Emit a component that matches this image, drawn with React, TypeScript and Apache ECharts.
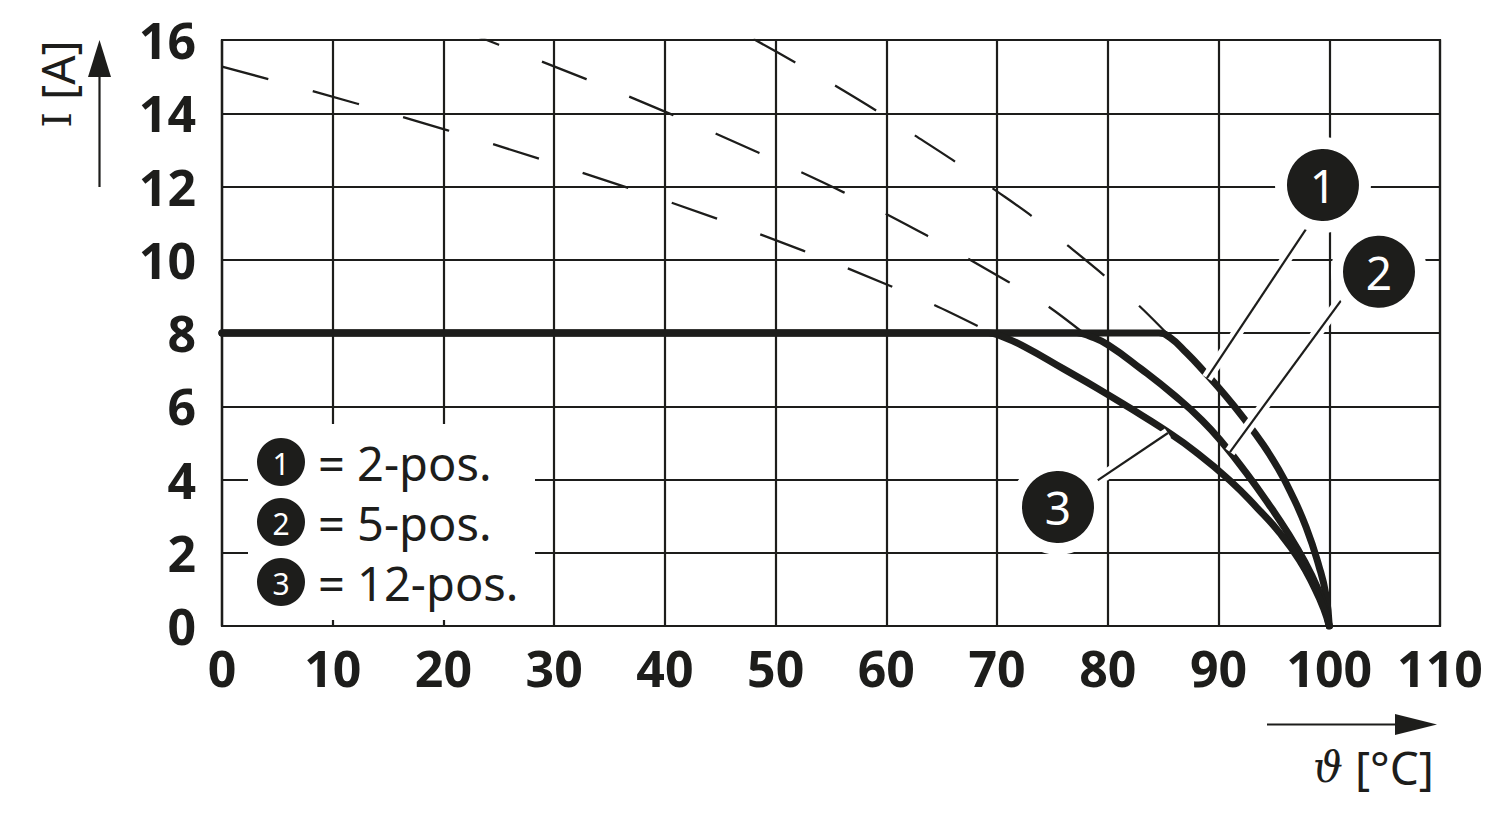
import React, { useEffect, useRef } from 'react';
import * as echarts from 'echarts';

// ---------- data ----------
const xTickMax = 110;
const yTickMax = 16;

// solid derating curves [temperature °C, current A]
const curve2pos: number[][] = [
  [0, 8], [84.6, 8], [85.6, 7.88], [87.1, 7.46], [88.6, 6.98], [90.6, 6.3], [92.3, 5.66],
  [94, 4.96], [95.3, 4.34], [96.5, 3.66], [97.9, 2.7], [99.1, 1.6], [99.7, 0.85], [100, 0],
];
const curve5pos: number[][] = [
  [0, 8], [77.2, 8], [78.5, 7.9], [80, 7.68], [83, 7.02], [86, 6.3], [88.5, 5.62],
  [90.5, 4.95], [92.5, 4.18], [94.5, 3.34], [96.3, 2.52], [97.8, 1.75], [99, 1.0],
  [99.6, 0.5], [100, 0],
];
const curve12pos: number[][] = [
  [0, 8], [69.2, 8], [70.5, 7.9], [72.5, 7.62], [76, 7.02], [79, 6.5], [82, 5.95], [85, 5.38],
  [88, 4.74], [91, 3.98], [93.5, 3.22], [95.5, 2.55], [97.3, 1.8], [98.7, 1.02], [99.5, 0.47],
  [100, 0],
];

// dashed extension curves
const dash2pos: number[][] = [
  [48, 16.03], [51.8, 15.38], [55.4, 14.75], [59.1, 14.07], [62.6, 13.39], [66.2, 12.68],
  [69.6, 11.95], [73.1, 11.2], [76.3, 10.41], [79.6, 9.59], [82.8, 8.75], [85.3, 8.0],
];
const dash5pos: number[][] = [
  [21, 16.35], [25, 15.87], [32.9, 14.93], [40.75, 13.95], [48.48, 12.92], [56.15, 11.84],
  [63.67, 10.66], [71, 9.4], [74.5, 8.75], [77.8, 8.0],
];
const dash12pos: number[][] = [
  [0, 15.27], [8.14, 14.61], [16.31, 13.9], [24.45, 13.16], [32.51, 12.38], [40.58, 11.56],
  [48.55, 10.7], [56.4, 9.78], [64.2, 8.78], [69.5, 8.0],
];

// callouts: circle position + number, pointer line
const calloutNums = ['1', '2', '3'];
const calloutPos: number[][] = [[99.43, 12.04], [104.49, 9.67], [75.5, 3.25]];
const pointerLines: number[][][] = [
  [[98.08, 10.92], [88.95, 6.77]],
  [[101.24, 8.96], [91.03, 4.75]],
  [[78.84, 3.93], [85.43, 5.27]],
];

const legendNums = ['1', '2', '3'];
const legendLabels = ['= 2-pos.', '= 5-pos.', '= 12-pos.'];

const ink = '#1d1d1b';
const font = 'Noto Sans';

export default function App() {
  const ref = useRef<HTMLDivElement>(null);

  useEffect(() => {
    const chart = echarts.init(ref.current!, null, { renderer: 'svg' });

    const solid = (name: string, data: number[][]) => ({
      name,
      type: 'line',
      data,
      showSymbol: false,
      symbol: 'none',
      smooth: 0.5,
      z: 3,
      lineStyle: { color: ink, width: 7, cap: 'round', join: 'round' },
    });
    const dashed = (name: string, data: number[][]) => ({
      name,
      type: 'line',
      data,
      symbol: 'none',
      smooth: 0.3,
      z: 2,
      lineStyle: { color: ink, width: 2.3, type: [48, 46] },
    });

    const legendGraphics: any[] = [
      {
        type: 'rect',
        shape: { x: 248, y: 424, width: 287, height: 196 },
        style: { fill: '#fff' },
        z: 10,
      },
    ];
    legendNums.forEach((n, i) => {
      const cy = 462 + i * 60;
      legendGraphics.push({
        type: 'circle',
        shape: { cx: 281, cy, r: 24 },
        style: { fill: ink },
        z: 11,
      });
      legendGraphics.push({
        type: 'text',
        x: 281,
        y: cy + 1,
        style: {
          text: n, fill: '#fff', font: `30px "${font}"`,
          textAlign: 'center', textVerticalAlign: 'middle',
        },
        z: 12,
      });
      legendGraphics.push({
        type: 'text',
        x: 318,
        y: cy + 1,
        style: {
          text: legendLabels[i], fill: ink, font: `47px "${font}"`,
          textAlign: 'left', textVerticalAlign: 'middle',
        },
        z: 12,
      });
    });

    const axisGraphics: any[] = [
      // y arrow
      { type: 'line', shape: { x1: 99.5, y1: 187, x2: 99.5, y2: 70 }, style: { stroke: ink, lineWidth: 2.2 } },
      { type: 'polygon', shape: { points: [[88, 77], [111, 77], [99.5, 40]] }, style: { fill: ink } },
      {
        type: 'text', x: 57, y: 84, rotation: Math.PI / 2,
        style: {
          text: '{s|I} [A]', fill: ink, font: `46px "${font}"`,
          textAlign: 'center', textVerticalAlign: 'middle',
          rich: { s: { fontFamily: 'DejaVu Serif', fontSize: 40, fill: ink } },
        },
      },
      // x arrow
      { type: 'line', shape: { x1: 1267, y1: 724.5, x2: 1400, y2: 724.5 }, style: { stroke: ink, lineWidth: 2.2 } },
      { type: 'polygon', shape: { points: [[1395, 714], [1395, 735], [1437, 724.5]] }, style: { fill: ink } },
      {
        type: 'text', x: 1434, y: 767,
        style: {
          text: '{t|ϑ} [°C]', fill: ink, font: `46px "${font}"`,
          textAlign: 'right', textVerticalAlign: 'middle',
          rich: { t: { fontFamily: 'DejaVu Serif', fontStyle: 'italic', fontSize: 42, fill: ink } },
        },
      },
    ];

    chart.setOption({
      animation: false,
      backgroundColor: '#fff',
      grid: {
        left: 222, right: 60, top: 40, bottom: 195,
        show: true, borderColor: ink, borderWidth: 2.2,
      },
      xAxis: {
        type: 'value', min: 0, max: xTickMax, interval: 10,
        axisLine: { show: true, lineStyle: { color: ink, width: 2.2 } },
        axisTick: { show: false },
        splitLine: { show: true, lineStyle: { color: ink, width: 2.2 } },
        axisLabel: {
          color: ink, fontFamily: font, fontWeight: 'bold', fontSize: 50, margin: 17,
          showMaxLabel: true, showMinLabel: true,
        },
      },
      yAxis: {
        type: 'value', min: 0, max: yTickMax, interval: 2,
        axisLine: { show: true, lineStyle: { color: ink, width: 2.2 } },
        axisTick: { show: false },
        splitLine: { show: true, lineStyle: { color: ink, width: 2.2 } },
        axisLabel: {
          color: ink, fontFamily: font, fontWeight: 'bold', fontSize: 50, margin: 26,
        },
      },
      series: [
        dashed('d12', dash12pos),
        dashed('d5', dash5pos),
        dashed('d2', dash2pos),
        solid('2-pos.', curve2pos),
        solid('5-pos.', curve5pos),
        solid('12-pos.', curve12pos),
        {
          type: 'lines', coordinateSystem: 'cartesian2d', z: 5, silent: true,
          data: pointerLines.map((c) => ({ coords: c })),
          lineStyle: { color: '#fff', width: 11, opacity: 1, cap: 'butt' },
        },
        {
          type: 'lines', coordinateSystem: 'cartesian2d', z: 6, silent: true,
          data: pointerLines.map((c) => ({ coords: c })),
          lineStyle: { color: ink, width: 2.2, opacity: 1, cap: 'butt' },
        },
        {
          type: 'scatter', z: 7, silent: true,
          symbol: 'circle', symbolSize: 84,
          data: calloutPos.map((p, i) => [p[0], p[1], calloutNums[i]]),
          itemStyle: { color: ink, borderColor: '#fff', borderWidth: 12, opacity: 1 },
          label: {
            show: true, position: 'inside', color: '#fff', fontFamily: font, fontSize: 46,
            formatter: (p: any) => p.value[2],
          },
        },
      ],
      graphic: [...axisGraphics, ...legendGraphics],
    });

    return () => chart.dispose();
  }, []);

  return (
    <div
      ref={ref}
      style={{ position: 'fixed', left: 0, top: 0, width: 1500, height: 821, background: '#fff' }}
    />
  );
}
